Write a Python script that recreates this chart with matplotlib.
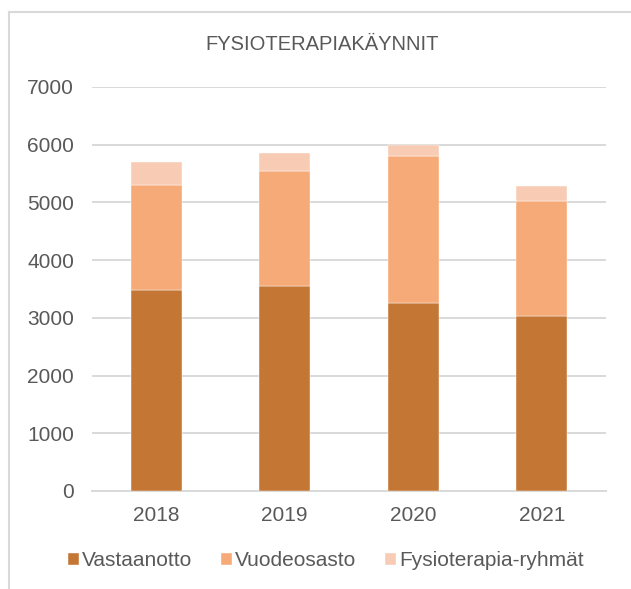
import matplotlib
matplotlib.use("Agg")
import matplotlib.pyplot as plt
from matplotlib.lines import Line2D
import numpy as np

years = ["2018", "2019", "2020", "2021"]
vastaanotto = [3490, 3550, 3260, 3030]
vuodeosasto = [1810, 1990, 2550, 1990]
ryhmat = [400, 310, 180, 270]
series_names = ["Vastaanotto", "Vuodeosasto", "Fysioterapia-ryhmät"]
colors = ["#C47635", "#F6AA78", "#F8CBB4"]
yticks = [0, 1000, 2000, 3000, 4000, 5000, 6000, 7000]

plt.rcParams['font.family'] = ['Liberation Sans', 'DejaVu Sans']
txt = "#595959"
grid = "#D9D9D9"

fig = plt.figure(figsize=(6.31, 5.89), dpi=100)
W, H = 631, 589
ax = fig.add_axes([92 / W, (H - 491) / H, 514 / W, (491 - 87) / H])

x = np.arange(len(years))
bottom = np.zeros(len(years))
for vals, name, c in zip([vastaanotto, vuodeosasto, ryhmat], series_names, colors):
    ax.bar(x, vals, width=0.4, bottom=bottom, color=c, label=name,
           edgecolor="white", linewidth=0.3, zorder=3)
    bottom += np.array(vals)

ax.set_xlim(-0.5, len(years) - 0.5)
ax.set_ylim(0, 7000)
ax.set_yticks(yticks)
ax.set_yticklabels([str(v) for v in yticks])
ax.set_xticks(x)
ax.set_xticklabels(years)
ax.yaxis.grid(True, color=grid, linewidth=1.4, zorder=0)
ax.set_axisbelow(True)
for s in ["top", "right", "left"]:
    ax.spines[s].set_visible(False)
ax.spines["bottom"].set_color(grid)
ax.spines["bottom"].set_linewidth(1.4)
ax.tick_params(axis="both", length=0, labelsize=15, colors=txt)
ax.tick_params(axis="y", pad=13)
ax.tick_params(axis="x", pad=11)

fig.text(322 / W, 1 - 45 / H, "FYSIOTERAPIAKÄYNNIT", ha="center", va="center",
         fontsize=14.5, color=txt)

leg = fig.legend(loc="center", bbox_to_anchor=(326 / W, 1 - 561 / H), ncol=3,
                 frameon=False, fontsize=15, handlelength=0.5, handleheight=0.5,
                 handletextpad=0.15, columnspacing=1.4, labelcolor=txt)

# chart border
fig.add_artist(Line2D([9 / W, 1], [1 - 12 / H, 1 - 12 / H], color=grid, linewidth=1.5,
                      transform=fig.transFigure))
fig.add_artist(Line2D([9 / W, 9 / W], [0, 1 - 12 / H], color=grid, linewidth=1.5,
                      transform=fig.transFigure))

fig.savefig("out.png", dpi=100)
